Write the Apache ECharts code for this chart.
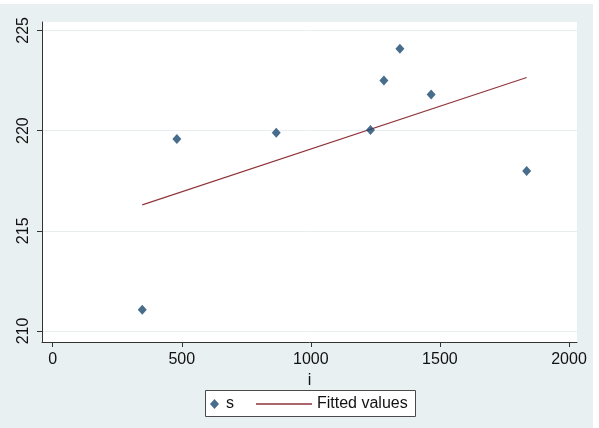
<!DOCTYPE html>
<html>
<head>
<meta charset="utf-8">
<script src="https://cdn.jsdelivr.net/npm/echarts@6/dist/echarts.min.js"></script>
<style>
html,body{margin:0;padding:0;background:#fff;width:599px;height:428px;overflow:hidden;}
#c{position:absolute;left:0;top:4px;width:593px;height:424px;}
</style>
</head>
<body>
<div id="c"></div>
<script>
// Data
const xValues = [347, 481, 866, 1231, 1283, 1345, 1466, 1836];
const sValues = [211.06, 219.58, 219.89, 220.03, 222.5, 224.08, 221.8, 217.98];
const fittedX = [347, 1836];
const fittedY = [216.29, 222.65];
const xTicks = [0, 500, 1000, 1500, 2000];
const yTicks = [210, 215, 220, 225];
const seriesNames = ['s', 'Fitted values'];

const font = "'Liberation Sans', Arial, sans-serif";
const chart = echarts.init(document.getElementById('c'), null, {renderer: 'canvas'});

const scatterData = xValues.map((x, i) => [x, sValues[i]]);
const fitData = fittedX.map((x, i) => [x, fittedY[i]]);

chart.setOption({
  backgroundColor: '#e9f0f2',
  animation: false,
  textStyle: {fontFamily: font},
  grid: {
    left: 42, right: 16, top: 18, bottom: 86,
    show: true, backgroundColor: '#ffffff', borderWidth: 0
  },
  graphic: [{
    type: 'rect', z: 0, left: 205, top: 386,
    shape: {width: 210, height: 26},
    style: {fill: '#ffffff', stroke: '#4a4a4a', lineWidth: 1}
  }],
  legend: [{
    data: [{name: seriesNames[0], icon: 'diamond'}],
    left: 210, top: 392, padding: 0,
    itemWidth: 9, itemHeight: 10,
    textStyle: {fontSize: 16, color: '#111', fontFamily: font, padding: [0, 0, 0, 2]},
    selectedMode: false, z: 4
  }, {
    data: [{name: seriesNames[1], icon: 'rect'}],
    left: 256, top: 392, padding: 0,
    itemWidth: 56, itemHeight: 1.3,
    textStyle: {fontSize: 16, color: '#111', fontFamily: font},
    selectedMode: false, z: 4
  }],
  xAxis: {
    type: 'value', min: -41.4, max: 2031,
    name: 'i', nameLocation: 'middle', nameGap: 23,
    nameTextStyle: {fontSize: 16, color: '#111', fontFamily: font},
    axisLine: {show: true, onZero: false, lineStyle: {color: '#333', width: 1}},
    axisTick: {show: true, length: 5, customValues: xTicks, lineStyle: {color: '#333'}},
    axisLabel: {customValues: xTicks, fontSize: 16, color: '#111', margin: 10, fontFamily: font,
      formatter: v => String(v)},
    splitLine: {show: false}
  },
  yAxis: {
    type: 'value', min: 209.45, max: 225.42,
    axisLine: {show: true, onZero: false, lineStyle: {color: '#333', width: 1}},
    axisTick: {show: true, length: 5, customValues: yTicks, lineStyle: {color: '#333'}},
    axisLabel: {customValues: yTicks, fontSize: 16, color: '#111', rotate: 90, margin: 10, fontFamily: font,
      formatter: v => String(v)},
    splitLine: {show: true, lineStyle: {color: '#e8eef0', width: 1}}
  },
  series: [{
    name: seriesNames[0], type: 'scatter', symbol: 'diamond', symbolSize: [9, 10],
    itemStyle: {color: '#1a476f'}, data: scatterData, z: 3
  }, {
    name: seriesNames[1], type: 'line', showSymbol: false, symbol: 'none',
    lineStyle: {color: '#90353b', width: 1.2}, itemStyle: {color: '#90353b'},
    data: fitData, z: 2
  }]
});
</script>
</body>
</html>
